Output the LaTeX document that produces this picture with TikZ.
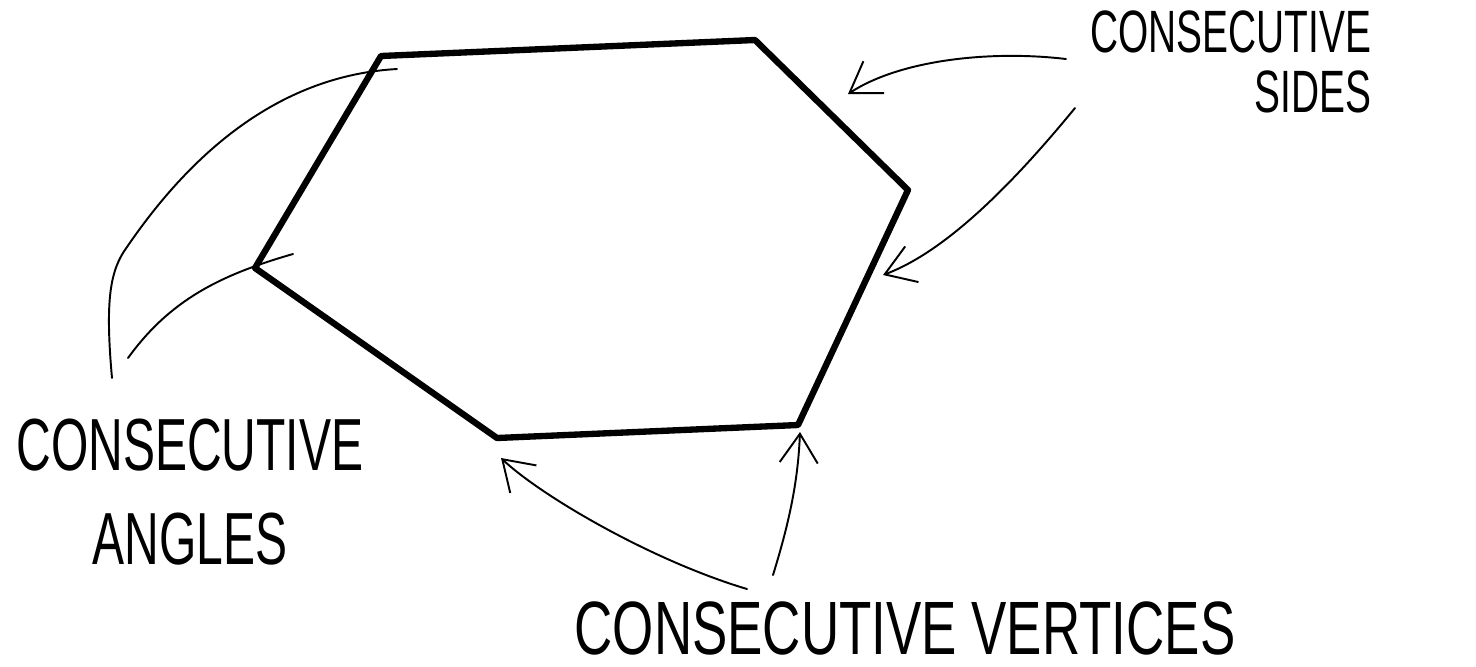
\documentclass[tikz,border=0pt]{standalone}
\usepackage{fontspec}
\usetikzlibrary{arrows.meta}
\newfontfamily\handfont[FakeStretch=0.65]{Liberation Sans}
\newfontfamily\widehandfont[FakeStretch=0.7]{Liberation Sans}
\tikzset{
  hexedge/.style={line width=1.8pt, line join=round, line cap=round},
  stroke/.style={line width=0.55pt, line cap=round},
  pointer/.style={stroke, -{Straight Barb[length=2.9mm,width=3.8mm]}},
  handlabel/.style={inner sep=0pt, align=center}
}

\begin{document}
\begin{tikzpicture}[x=0.01cm,y=-0.01cm]
    \useasboundingbox (0,0) rectangle (1476,666);

    % corners of the hexagon
    \coordinate (A) at (381,56);
    \coordinate (B) at (755,40);
    \coordinate (C) at (908,190);
    \coordinate (D) at (798,425);
    \coordinate (E) at (497,438);
    \coordinate (F) at (255,268);
    \draw[hexedge] (A) -- (B) -- (C) -- (D) -- (E) -- (F) -- cycle;

    % labels
    \node[handlabel, align=right, anchor=east, font=\handfont\fontsize{17}{17}\selectfont] (sides) at (1372,62) {CONSECUTIVE\\SIDES};
    \node[handlabel, font=\handfont\fontsize{21}{26.5}\selectfont] (angles) at (190,492) {CONSECUTIVE\\ANGLES};
    \node[handlabel, font=\widehandfont\fontsize{21.5}{26}\selectfont] (vertices) at (905,628) {CONSECUTIVE VERTICES};

    % consecutive sides
    \coordinate (s1) at (1066,59);
    \coordinate (s2) at (1075,108);
    \coordinate (sAB) at (848,94);
    \coordinate (sCD) at (883,275);
    \draw[pointer] (s1) .. controls (990,50) and (900,60) .. (sAB);
    \draw[pointer] (s2) .. controls (1020,175) and (950,250) .. (sCD);

    % consecutive angles
    \coordinate (a1) at (112,378);
    \coordinate (a2) at (128,358);
    \coordinate (aA) at (397,69);
    \coordinate (aF) at (293,254);
    \draw[stroke] (a1) .. controls (105,300) and (110,270) .. (127,247) .. controls (200,140) and (290,75) .. (aA);
    \draw[stroke] (a2) .. controls (170,300) and (220,275) .. (aF);

    % consecutive vertices
    \coordinate (v1) at (747,589);
    \coordinate (v2) at (773,575);
    \coordinate (vE) at (501,458);
    \coordinate (vD) at (800,432);
    \draw[pointer] (v1) .. controls (650,560) and (540,495) .. (vE);
    \draw[pointer] (v2) .. controls (790,520) and (798,480) .. (vD);
\end{tikzpicture}
\end{document}
